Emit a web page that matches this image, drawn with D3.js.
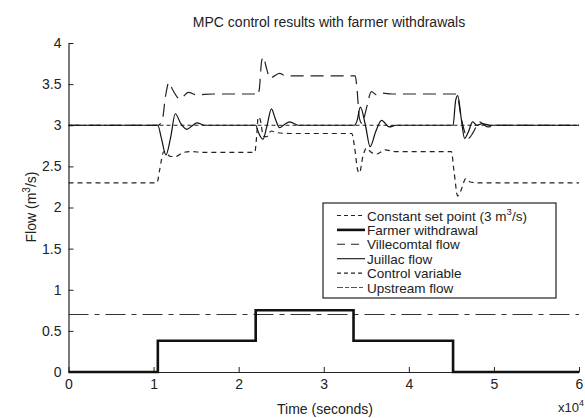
<!DOCTYPE html>
<html>
<head>
<meta charset="utf-8">
<script src="https://cdn.jsdelivr.net/npm/d3@7"></script>
<style>
  body { margin: 0; background: #fff; }
  text { font-family: "Liberation Sans", Arial, sans-serif; fill: #222; }
</style>
</head>
<body>
<svg id="chart"></svg>
<script>
// time is in units of 10^4 seconds (the axis says x10^4)
const xTicks = [0, 1, 2, 3, 4, 5, 6];
const yTicks = [0, 0.5, 1, 1.5, 2, 2.5, 3, 3.5, 4];

// [time, flow] pairs
const setPoint = [[0, 3], [6, 3]];
const upstreamFlow = [[0, 0.7], [6, 0.7]];
// step values, each one holds until the next time
const farmerWithdrawal = [[0, 0], [1.05, 0.38], [2.2, 0.75], [3.35, 0.38], [4.52, 0], [6, 0]];

const villecomtalFlow = [
  [0, 3], [1.05, 3], [1.1, 3.05], [1.14, 3.35], [1.18, 3.52], [1.22, 3.44], [1.31, 3.32],
  [1.41, 3.4], [1.5, 3.37], [1.7, 3.38], [2.19, 3.38], [2.21, 3.36], [2.24, 3.42],
  [2.27, 3.78], [2.29, 3.83], [2.32, 3.72], [2.37, 3.57], [2.42, 3.6], [2.48, 3.63],
  [2.56, 3.6], [3.37, 3.6], [3.39, 3.45], [3.42, 3.08], [3.45, 3.02], [3.5, 3.2],
  [3.56, 3.41], [3.62, 3.37], [3.69, 3.39], [3.8, 3.38], [4.54, 3.38], [4.57, 3.36],
  [4.61, 3.12], [4.7, 2.84], [4.76, 2.92], [4.83, 3.04], [4.93, 2.98], [5.02, 3], [6, 3]
];

const juillacFlow = [
  [0, 3], [1.05, 3], [1.09, 2.85], [1.145, 2.64], [1.2, 2.85], [1.255, 3.14], [1.32, 3.02],
  [1.39, 2.95], [1.45, 2.99], [1.51, 3.03], [1.6, 3], [2.2, 3], [2.23, 2.92], [2.285, 2.83],
  [2.33, 2.98], [2.385, 3.2], [2.43, 3.08], [2.48, 2.97], [2.54, 3.01], [2.6, 3.04],
  [2.7, 3], [3.36, 3], [3.39, 3.05], [3.43, 3.22], [3.49, 3], [3.545, 2.74], [3.61, 2.92],
  [3.68, 3.06], [3.77, 2.98], [3.85, 3], [4.52, 3], [4.55, 3.3], [4.575, 3.36], [4.62, 3.05],
  [4.655, 2.84], [4.7, 2.92], [4.75, 3.04], [4.8, 3], [4.86, 3.02], [4.95, 3], [6, 3]
];

const controlVariable = [
  [0, 2.3], [1.04, 2.3], [1.07, 2.45], [1.12, 2.68], [1.15, 2.66], [1.2, 2.62], [1.26, 2.62],
  [1.33, 2.66], [1.42, 2.68], [1.6, 2.67], [2.19, 2.67], [2.21, 2.85], [2.23, 3.1],
  [2.25, 3.08], [2.29, 2.87], [2.33, 2.86], [2.38, 2.93], [2.45, 2.91], [2.6, 2.9],
  [3.33, 2.9], [3.36, 2.75], [3.4, 2.45], [3.42, 2.42], [3.46, 2.62], [3.5, 2.72],
  [3.56, 2.67], [3.62, 2.65], [3.72, 2.7], [3.85, 2.68], [4.5, 2.68], [4.53, 2.45],
  [4.575, 2.14], [4.61, 2.2], [4.67, 2.35], [4.72, 2.31], [4.8, 2.3], [6, 2.3]
];

const w = 585, h = 418;
const svg = d3.select("#chart").attr("width", w).attr("height", h);

// plot area
const x = d3.scaleLinear().domain([0, 6]).range([68.5, 579]);
const y = d3.scaleLinear().domain([0, 4]).range([372, 43]);

// axes, ticks point inward like matlab
const xAxis = d3.axisBottom(x).tickValues(xTicks).tickSizeInner(-5).tickSizeOuter(0)
  .tickPadding(7).tickFormat(d3.format("d"));
const yAxis = d3.axisLeft(y).tickValues(yTicks).tickSizeInner(-5).tickSizeOuter(0)
  .tickPadding(7).tickFormat(d3.format("~g"));

const gx = svg.append("g").attr("transform", `translate(0,${y(0)})`).call(xAxis);
const gy = svg.append("g").attr("transform", `translate(${x(0)},0)`).call(yAxis);
[gx, gy].forEach(g => {
  g.select(".domain").attr("stroke", "#222").attr("stroke-width", 1.2);
  g.selectAll(".tick line").attr("stroke", "#222");
  g.selectAll(".tick text").attr("font-size", 14).attr("fill", "#222")
    .attr("font-family", "'Liberation Sans', Arial, sans-serif");
});

// lines
const line = d3.line().x(d => x(d[0])).y(d => y(d[1])).curve(d3.curveMonotoneX);
const stepLine = d3.line().x(d => x(d[0])).y(d => y(d[1])).curve(d3.curveStepAfter);

const series = [
  { name: "Upstream flow", data: upstreamFlow, gen: line, dash: "20,6,5,6", width: 1.1, color: "#333" },
  { name: "Farmer withdrawal", data: farmerWithdrawal, gen: stepLine, dash: null, width: 2.6, color: "#111" },
  { name: "Constant set point", data: setPoint, gen: line, dash: "4,3", width: 1, color: "#222" },
  { name: "Villecomtal flow", data: villecomtalFlow, gen: line, dash: "13,7", width: 1.2, color: "#222" },
  { name: "Control variable", data: controlVariable, gen: line, dash: "5,4", width: 1.2, color: "#222" },
  { name: "Juillac flow", data: juillacFlow, gen: line, dash: null, width: 1.2, color: "#111" }
];

svg.append("g").selectAll("path")
  .data(series)
  .enter()
  .append("path")
  .attr("d", s => s.gen(s.data))
  .attr("fill", "none")
  .attr("stroke", s => s.color)
  .attr("stroke-width", s => s.width)
  .attr("stroke-dasharray", s => s.dash);

// title and axis labels
svg.append("text").attr("x", 329).attr("y", 27).attr("text-anchor", "middle")
  .attr("font-size", 14).text("MPC control results with farmer withdrawals");

svg.append("text").attr("x", 325).attr("y", 414).attr("text-anchor", "middle")
  .attr("font-size", 14).text("Time (seconds)");

const xExp = svg.append("text").attr("x", 558).attr("y", 412).attr("font-size", 13);
xExp.append("tspan").text("x10");
xExp.append("tspan").attr("dy", -6).attr("font-size", 9).text("4");

const yLab = svg.append("text").attr("transform", "translate(36,207) rotate(-90)")
  .attr("text-anchor", "middle").attr("font-size", 14);
yLab.append("tspan").text("Flow (m");
yLab.append("tspan").attr("dy", -6).attr("font-size", 10).text("3");
yLab.append("tspan").attr("dy", 6).text("/s)");

// legend
const legendItems = [
  { label: "Constant set point (3 m", sup: "3", tail: "/s)", dash: "4,3", width: 1.1, color: "#222" },
  { label: "Farmer withdrawal", dash: null, width: 2.6, color: "#111" },
  { label: "Villecomtal flow", dash: "8,6", width: 1.1, color: "#222" },
  { label: "Juillac flow", dash: null, width: 1.1, color: "#111" },
  { label: "Control variable", dash: "4,3", width: 1.1, color: "#222" },
  { label: "Upstream flow", dash: "6,2,4,2", width: 1.1, color: "#555" }
];

const legend = svg.append("g");
legend.append("rect").attr("x", 323).attr("y", 203).attr("width", 233).attr("height", 95)
  .attr("fill", "#fff").attr("stroke", "#222").attr("stroke-width", 1.2);

const rows = legend.selectAll("g.row")
  .data(legendItems)
  .enter()
  .append("g")
  .attr("class", "row")
  .attr("transform", (d, i) => `translate(0,${215.5 + i * 14.4})`);

rows.append("line")
  .attr("x1", 337).attr("x2", 365).attr("y1", 0).attr("y2", 0)
  .attr("stroke", d => d.color)
  .attr("stroke-width", d => d.width)
  .attr("stroke-dasharray", d => d.dash);

const rowText = rows.append("text").attr("x", 367).attr("y", 5).attr("font-size", 13.5);
rowText.append("tspan").text(d => d.label);
rowText.filter(d => d.sup).append("tspan").attr("dy", -6).attr("font-size", 9.5).text(d => d.sup);
rowText.filter(d => d.sup).append("tspan").attr("dy", 6).text(d => d.tail);
</script>
</body>
</html>
